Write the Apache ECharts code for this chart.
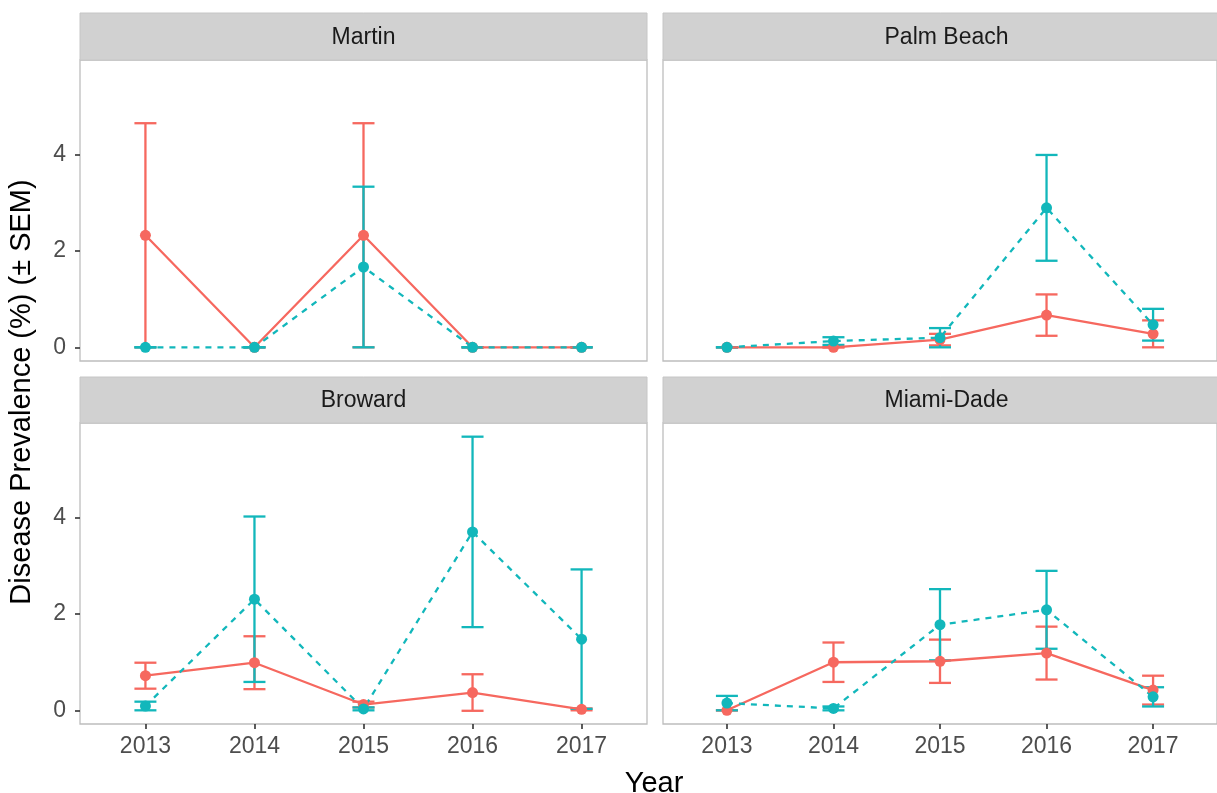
<!DOCTYPE html>
<html>
<head>
<meta charset="utf-8">
<script src="https://cdn.jsdelivr.net/npm/echarts@6/dist/echarts.min.js"></script>
<style>
html,body{margin:0;padding:0;background:#fff;}
#chart{width:1217px;height:793px;}
</style>
</head>
<body>
<div id="chart"></div>
<script>
// ---- data ----
const years = [2013, 2014, 2015, 2016, 2017];
const yTicks = [0, 2, 4];
const panels = ['Martin', 'Palm Beach', 'Broward', 'Miami-Dade'];

const martinRedMean = [2.33, 0, 2.33, 0, 0];
const martinRedSem  = [2.33, 0, 2.33, 0, 0];
const martinTealMean = [0, 0, 1.67, 0, 0];
const martinTealSem  = [0, 0, 1.67, 0, 0];

const palmRedMean = [0, 0, 0.16, 0.67, 0.28];
const palmRedSem  = [0, 0, 0.12, 0.43, 0.28];
const palmTealMean = [0, 0.13, 0.2, 2.9, 0.47];
const palmTealSem  = [0, 0.08, 0.2, 1.1, 0.33];

const browardRedMean = [0.72, 0.99, 0.12, 0.37, 0.02];
const browardRedSem  = [0.27, 0.55, 0.06, 0.38, 0.02];
const browardTealMean = [0.09, 2.31, 0.03, 3.71, 1.48];
const browardTealSem  = [0.09, 1.72, 0.03, 1.98, 1.45];

const miamiRedMean = [0, 1.0, 1.02, 1.19, 0.42];
const miamiRedSem  = [0, 0.41, 0.45, 0.55, 0.3];
const miamiTealMean = [0.15, 0.04, 1.78, 2.09, 0.28];
const miamiTealSem  = [0.15, 0.04, 0.74, 0.81, 0.2];

const redMeans = [martinRedMean, palmRedMean, browardRedMean, miamiRedMean];
const redSems = [martinRedSem, palmRedSem, browardRedSem, miamiRedSem];
const tealMeans = [martinTealMean, palmTealMean, browardTealMean, miamiTealMean];
const tealSems = [martinTealSem, palmTealSem, browardTealSem, miamiTealSem];

// ---- styling / layout ----
const RED = '#F6685F';
const TEAL = '#12B7BB';
const FONT = "'Liberation Sans', Arial, Helvetica, sans-serif";
const colLeft = [80, 663];
const colW = 567;
const rowTop = [60, 423];
const stripTop = [13, 377];
const rowH = 301;
const LW = 2.3;

// ggplot-like 5% expansion of y range (fixed scales)
let maxUpper = 0;
[redMeans, tealMeans].forEach((means, g) => {
  const sems = g === 0 ? redSems : tealSems;
  means.forEach((arr, p) => arr.forEach((m, i) => { maxUpper = Math.max(maxUpper, m + sems[p][i]); }));
});
const yMin = -0.05 * maxUpper;
const yMax = 1.05 * maxUpper;

const grids = [], xAxes = [], yAxes = [], series = [], graphics = [];

function errRenderer(color) {
  return function (params, api) {
    const x = api.value(0), lo = api.value(1), hi = api.value(2);
    const a = api.coord([x, lo]), b = api.coord([x, hi]);
    const hw = 11;
    const st = { stroke: color, lineWidth: LW, fill: null };
    return {
      type: 'group',
      children: [
        { type: 'line', shape: { x1: a[0], y1: a[1], x2: b[0], y2: b[1] }, style: st },
        { type: 'line', shape: { x1: a[0] - hw, y1: a[1], x2: a[0] + hw, y2: a[1] }, style: st },
        { type: 'line', shape: { x1: b[0] - hw, y1: b[1], x2: b[0] + hw, y2: b[1] }, style: st }
      ]
    };
  };
}

panels.forEach((name, p) => {
  const r = Math.floor(p / 2), c = p % 2;
  const left = colLeft[c], top = rowTop[r];
  grids.push({
    left: left, top: top, width: colW, height: rowH,
    show: true, borderColor: '#bdbdbd', borderWidth: 1.3, backgroundColor: '#fff',
    containLabel: false
  });
  const bottomRow = r === 1, leftCol = c === 0;
  xAxes.push({
    type: 'value', gridIndex: p, min: 2012.4, max: 2017.6, position: 'bottom',
    axisLine: { show: false, onZero: false },
    splitLine: { show: false },
    axisTick: { show: bottomRow, inside: false, customValues: years, length: 5, lineStyle: { color: '#333', width: 1.6 } },
    axisLabel: { show: bottomRow, customValues: years, formatter: v => String(v), fontSize: 23, color: '#4d4d4d', fontFamily: FONT, margin: 11 }
  });
  yAxes.push({
    type: 'value', gridIndex: p, min: yMin, max: yMax, position: 'left',
    axisLine: { show: false, onZero: false },
    splitLine: { show: false },
    axisTick: { show: leftCol, inside: false, customValues: yTicks, length: 5, lineStyle: { color: '#333', width: 1.6 } },
    axisLabel: { show: leftCol, customValues: yTicks, formatter: v => String(v), fontSize: 23, color: '#4d4d4d', fontFamily: FONT, margin: 14 }
  });

  const groups = [
    { means: redMeans[p], sems: redSems[p], color: RED, type: 'solid', label: 'A' },
    { means: tealMeans[p], sems: tealSems[p], color: TEAL, type: [6, 6], label: 'B' }
  ];
  // error bars
  groups.forEach((g, gi) => {
    series.push({
      type: 'custom', name: g.label + ' SEM', xAxisIndex: p, yAxisIndex: p, z: 2 + gi * 0.1,
      renderItem: errRenderer(g.color),
      encode: { x: 0, y: [1, 2] },
      data: years.map((y, i) => [y, g.means[i] - g.sems[i], g.means[i] + g.sems[i]]),
      silent: true
    });
  });
  // lines
  groups.forEach((g, gi) => {
    series.push({
      type: 'line', name: g.label, xAxisIndex: p, yAxisIndex: p, z: 3 + gi * 0.1,
      data: years.map((y, i) => [y, g.means[i]]),
      symbol: 'none', lineStyle: { color: g.color, width: LW, type: g.type },
      silent: true, animation: false
    });
  });
  // points
  groups.forEach((g, gi) => {
    series.push({
      type: 'scatter', name: g.label + ' pts', xAxisIndex: p, yAxisIndex: p, z: 4 + gi * 0.1,
      data: years.map((y, i) => [y, g.means[i]]),
      symbol: 'circle', symbolSize: 11, itemStyle: { color: g.color, opacity: 1 },
      silent: true
    });
  });

  // strip
  graphics.push({
    type: 'rect', shape: { x: left, y: stripTop[r], width: colW, height: top - stripTop[r] },
    style: { fill: '#d1d1d1', stroke: '#c6c6c6', lineWidth: 1 }, z: 10
  });
  graphics.push({
    type: 'text', x: left + colW / 2, y: stripTop[r] + (top - stripTop[r]) / 2 + 1,
    style: { text: name, fill: '#1a1a1a', font: '23px ' + FONT, align: 'center', verticalAlign: 'middle' }, z: 11
  });
});

graphics.push({
  type: 'text', x: 22, y: 392, rotation: Math.PI / 2,
  style: { text: 'Disease Prevalence (%) (± SEM)', fill: '#000', font: '29px ' + FONT, align: 'center', verticalAlign: 'middle' }
});
graphics.push({
  type: 'text', x: 654, y: 784,
  style: { text: 'Year', fill: '#000', font: '29px ' + FONT, align: 'center', verticalAlign: 'middle' }
});

const chart = echarts.init(document.getElementById('chart'), null, { renderer: 'canvas' });
chart.setOption({
  backgroundColor: '#fff',
  animation: false,
  grid: grids,
  xAxis: xAxes,
  yAxis: yAxes,
  series: series,
  graphic: graphics
});
</script>
</body>
</html>
